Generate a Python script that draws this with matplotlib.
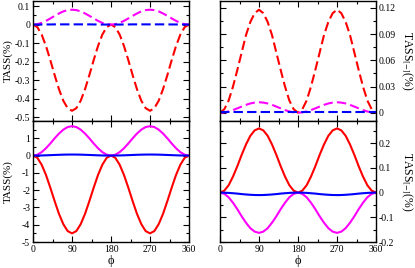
import numpy as np
import matplotlib
matplotlib.use('Agg')
import matplotlib.pyplot as plt
from matplotlib.ticker import MultipleLocator, FixedLocator

plt.rcParams['font.family'] = ['Liberation Serif', 'DejaVu Serif']
plt.rcParams['mathtext.fontset'] = 'stix'

# azimuthal angle phi (deg), sampled every 10 deg
phi = list(range(0, 361, 10))

# top-left panel (dashed)
tl_red = [0, -0.014, -0.054, -0.116, -0.192, -0.273, -0.349, -0.411, -0.451, -0.465,
          -0.451, -0.411, -0.349, -0.273, -0.192, -0.116, -0.054, -0.014, 0,
          -0.014, -0.054, -0.116, -0.192, -0.273, -0.349, -0.411, -0.451, -0.465,
          -0.451, -0.411, -0.349, -0.273, -0.192, -0.116, -0.054, -0.014, 0]
tl_mag = [0, 0.002, 0.009, 0.020, 0.033, 0.047, 0.060, 0.071, 0.078, 0.080,
          0.078, 0.071, 0.060, 0.047, 0.033, 0.020, 0.009, 0.002, 0,
          0.002, 0.009, 0.020, 0.033, 0.047, 0.060, 0.071, 0.078, 0.080,
          0.078, 0.071, 0.060, 0.047, 0.033, 0.020, 0.009, 0.002, 0]
tl_blue = [0, 0, 0, 0.0005, 0.0005, 0.001, 0.001, 0.001, 0.001, 0.001,
           0.001, 0.001, 0.001, 0.001, 0.0005, 0.0005, 0, 0, 0,
           0, 0, 0.0005, 0.0005, 0.001, 0.001, 0.001, 0.001, 0.001,
           0.001, 0.001, 0.001, 0.001, 0.0005, 0.0005, 0, 0, 0]

# top-right panel (dashed)
tr_red = [0, 0.004, 0.014, 0.030, 0.049, 0.069, 0.089, 0.104, 0.114, 0.118,
          0.114, 0.104, 0.089, 0.069, 0.049, 0.030, 0.014, 0.004, 0,
          0.004, 0.014, 0.030, 0.049, 0.069, 0.089, 0.104, 0.114, 0.118,
          0.114, 0.104, 0.089, 0.069, 0.049, 0.030, 0.014, 0.004, 0]
tr_mag = [0, 0.0004, 0.0014, 0.003, 0.005, 0.007, 0.009, 0.0106, 0.0116, 0.012,
          0.0116, 0.0106, 0.009, 0.007, 0.005, 0.003, 0.0014, 0.0004, 0,
          0.0004, 0.0014, 0.003, 0.005, 0.007, 0.009, 0.0106, 0.0116, 0.012,
          0.0116, 0.0106, 0.009, 0.007, 0.005, 0.003, 0.0014, 0.0004, 0]
tr_blue = [0.0003] * 37

# bottom-left panel (solid)
bl_red = [0, -0.13, -0.53, -1.125, -1.86, -2.64, -3.375, -3.97, -4.37, -4.5,
          -4.37, -3.97, -3.375, -2.64, -1.86, -1.125, -0.53, -0.13, 0,
          -0.13, -0.53, -1.125, -1.86, -2.64, -3.375, -3.97, -4.37, -4.5,
          -4.37, -3.97, -3.375, -2.64, -1.86, -1.125, -0.53, -0.13, 0]
bl_mag = [0, 0.05, 0.20, 0.425, 0.70, 1.0, 1.275, 1.50, 1.65, 1.7,
          1.65, 1.50, 1.275, 1.0, 0.70, 0.425, 0.20, 0.05, 0,
          0.05, 0.20, 0.425, 0.70, 1.0, 1.275, 1.50, 1.65, 1.7,
          1.65, 1.50, 1.275, 1.0, 0.70, 0.425, 0.20, 0.05, 0]
bl_blue = [0, 0.002, 0.007, 0.015, 0.025, 0.035, 0.045, 0.053, 0.058, 0.06,
           0.058, 0.053, 0.045, 0.035, 0.025, 0.015, 0.007, 0.002, 0,
           0.002, 0.007, 0.015, 0.025, 0.035, 0.045, 0.053, 0.058, 0.06,
           0.058, 0.053, 0.045, 0.035, 0.025, 0.015, 0.007, 0.002, 0]

# bottom-right panel (solid)
br_red = [0, 0.008, 0.03, 0.065, 0.107, 0.153, 0.195, 0.23, 0.252, 0.26,
          0.252, 0.23, 0.195, 0.153, 0.107, 0.065, 0.03, 0.008, 0,
          0.008, 0.03, 0.065, 0.107, 0.153, 0.195, 0.23, 0.252, 0.26,
          0.252, 0.23, 0.195, 0.153, 0.107, 0.065, 0.03, 0.008, 0]
br_mag = [0, -0.005, -0.019, -0.041, -0.067, -0.096, -0.122, -0.144, -0.158, -0.163,
          -0.158, -0.144, -0.122, -0.096, -0.067, -0.041, -0.019, -0.005, 0,
          -0.005, -0.019, -0.041, -0.067, -0.096, -0.122, -0.144, -0.158, -0.163,
          -0.158, -0.144, -0.122, -0.096, -0.067, -0.041, -0.019, -0.005, 0]
br_blue = [0, -0.0003, -0.0012, -0.0025, -0.004, -0.006, -0.0075, -0.0088, -0.0097, -0.01,
           -0.0097, -0.0088, -0.0075, -0.006, -0.004, -0.0025, -0.0012, -0.0003, 0,
           -0.0003, -0.0012, -0.0025, -0.004, -0.006, -0.0075, -0.0088, -0.0097, -0.01,
           -0.0097, -0.0088, -0.0075, -0.006, -0.004, -0.0025, -0.0012, -0.0003, 0]

x_ticks = [0, 90, 180, 270, 360]

fig = plt.figure(figsize=(4.15, 2.68), dpi=100)
W = 156 / 415
H_top = 120 / 268
H_bot = 121 / 268
ax_tl = fig.add_axes([33 / 415, 1 - 121 / 268, W, H_top])
ax_tr = fig.add_axes([220 / 415, 1 - 121 / 268, W, H_top])
ax_bl = fig.add_axes([33 / 415, 1 - 242 / 268, W, H_bot])
ax_br = fig.add_axes([220 / 415, 1 - 242 / 268, W, H_bot])

dash = (4.5, 2)
lw = 1.5
ax_tl.plot(phi, tl_red, color='#ff0000', lw=lw, dashes=dash)
ax_tl.plot(phi, tl_mag, color='#ff00ff', lw=lw, dashes=dash)
ax_tl.plot(phi, tl_blue, color='#0000ff', lw=lw, dashes=dash)
ax_tr.plot(phi, tr_red, color='#ff0000', lw=lw, dashes=dash)
ax_tr.plot(phi, tr_mag, color='#ff00ff', lw=lw, dashes=dash)
ax_tr.plot(phi, tr_blue, color='#0000ff', lw=lw, dashes=dash)
ax_bl.plot(phi, bl_red, color='#ff0000', lw=lw)
ax_bl.plot(phi, bl_mag, color='#ff00ff', lw=lw)
ax_bl.plot(phi, bl_blue, color='#0000ff', lw=lw)
ax_br.plot(phi, br_red, color='#ff0000', lw=lw)
ax_br.plot(phi, br_mag, color='#ff00ff', lw=lw)
ax_br.plot(phi, br_blue, color='#0000ff', lw=lw)

ax_tl.set_ylim(-0.52, 0.127)
ax_tr.set_ylim(-0.0095, 0.128)
ax_bl.set_ylim(-5, 2)
ax_br.set_ylim(-0.2, 0.29)

ax_tl.yaxis.set_major_locator(FixedLocator([-0.5, -0.4, -0.3, -0.2, -0.1, 0, 0.1]))
ax_tl.yaxis.set_minor_locator(MultipleLocator(0.05))
ax_tl.set_yticklabels(['-0.5', '-0.4', '-0.3', '-0.2', '-0.1', '0', '0.1'])
ax_tr.yaxis.set_major_locator(FixedLocator([0, 0.03, 0.06, 0.09, 0.12]))
ax_tr.yaxis.set_minor_locator(MultipleLocator(0.015))
ax_tr.set_yticklabels(['0', '0.03', '0.06', '0.09', '0.12'])
ax_bl.yaxis.set_major_locator(FixedLocator([-5, -4, -3, -2, -1, 0, 1]))
ax_bl.yaxis.set_minor_locator(MultipleLocator(0.5))
ax_bl.set_yticklabels(['-5', '-4', '-3', '-2', '-1', '0', '1'])
ax_br.yaxis.set_major_locator(FixedLocator([-0.2, -0.1, 0, 0.1, 0.2]))
ax_br.yaxis.set_minor_locator(MultipleLocator(0.05))
ax_br.set_yticklabels(['-0.2', '-0.1', '0', '0.1', '0.2'])

for ax in (ax_tl, ax_tr, ax_bl, ax_br):
    ax.set_xlim(0, 360)
    ax.xaxis.set_major_locator(FixedLocator(x_ticks))
    ax.xaxis.set_minor_locator(MultipleLocator(45))
    ax.tick_params(which='both', direction='in', top=True, bottom=True,
                   left=True, right=True, labelsize=7, pad=2, width=0.8)
    ax.tick_params(which='major', length=4)
    ax.tick_params(which='minor', length=2)
    for s in ax.spines.values():
        s.set_linewidth(1.0)

for ax in (ax_tl, ax_tr):
    ax.tick_params(labelbottom=False)
for ax in (ax_tr, ax_br):
    ax.tick_params(labelleft=False, labelright=True)
for ax in (ax_bl, ax_br):
    ax.set_xticklabels([str(t) for t in x_ticks])
    ax.set_xlabel('ϕ', fontsize=9, labelpad=1)

for ax in (ax_tl, ax_bl):
    ax.set_ylabel('TASS(%)', fontsize=8, va='center')
    ax.yaxis.set_label_coords(-0.16, 0.5)
for ax in (ax_tr, ax_br):
    ax.yaxis.set_label_position('right')
    ax.set_ylabel('TASS$_{[-]}$(%)', fontsize=8.5, rotation=-90, va='center')
    ax.yaxis.set_label_coords(1.2, 0.5)

fig.savefig('out.png', dpi=100)
